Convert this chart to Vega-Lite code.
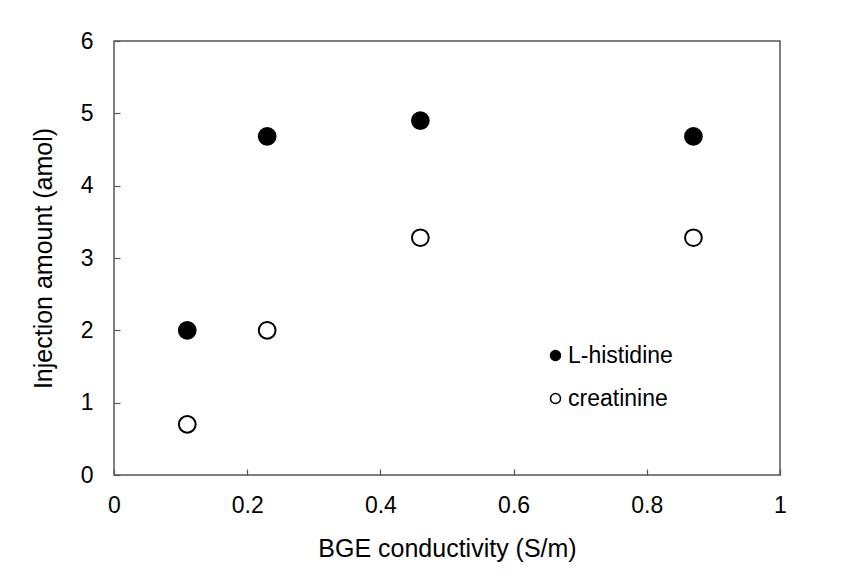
{
  "$schema": "https://vega.github.io/schema/vega-lite/v6.json",
  "autosize": "none",
  "padding": {"left": 114, "top": 41, "right": 84, "bottom": 106},
  "width": 666,
  "height": 434,
  "background": "white",
  "config": {
    "font": "Liberation Sans",
    "view": {"stroke": "#555555", "strokeWidth": 1.5},
    "axis": {"grid": false, "domain": false, "labelFont": "Liberation Sans", "titleFont": "Liberation Sans", "labelColor": "#000000", "titleColor": "#000000", "labelFontSize": 23, "titleFontSize": 25, "titleFontWeight": "normal", "tickColor": "#555555", "tickWidth": 1.2}
  },
  "data": {
    "values": [
      {"conductivity": 0.11, "amount": 2.0, "compound": "L-histidine"},
      {"conductivity": 0.23, "amount": 4.68, "compound": "L-histidine"},
      {"conductivity": 0.46, "amount": 4.9, "compound": "L-histidine"},
      {"conductivity": 0.87, "amount": 4.68, "compound": "L-histidine"},
      {"conductivity": 0.11, "amount": 0.7, "compound": "creatinine"},
      {"conductivity": 0.23, "amount": 2.0, "compound": "creatinine"},
      {"conductivity": 0.46, "amount": 3.28, "compound": "creatinine"},
      {"conductivity": 0.87, "amount": 3.28, "compound": "creatinine"}
    ]
  },
  "mark": {"type": "point", "shape": "circle", "size": 280, "stroke": "#000000", "strokeWidth": 2, "opacity": 1},
  "encoding": {
    "x": {
      "field": "conductivity", "type": "quantitative",
      "scale": {"domain": [0, 1], "nice": false, "zero": false},
      "axis": {"title": "BGE conductivity (S/m)", "values": [0, 0.2, 0.4, 0.6, 0.8, 1], "format": "~g", "tickSize": -6, "labelPadding": 25, "titlePadding": 19, "labelFlush": false}
    },
    "y": {
      "field": "amount", "type": "quantitative",
      "scale": {"domain": [0, 6], "nice": false},
      "axis": {"title": "Injection amount (amol)", "values": [0, 1, 2, 3, 4, 5, 6], "tickSize": -6, "labelPadding": 27, "titlePadding": 24, "labelFlush": false}
    },
    "fill": {
      "field": "compound", "type": "nominal",
      "scale": {"domain": ["L-histidine", "creatinine"], "range": ["#000000", "#ffffff"]},
      "legend": {
        "title": null, "orient": "none", "legendX": 430, "legendY": 303,
        "symbolType": "circle", "symbolSize": 100, "symbolStrokeColor": "#000000", "symbolStrokeWidth": 1.5,
        "labelFontSize": 23, "labelFont": "Liberation Sans", "labelColor": "#000000", "labelOffset": 1, "rowPadding": 19, "padding": 0
      }
    }
  }
}
